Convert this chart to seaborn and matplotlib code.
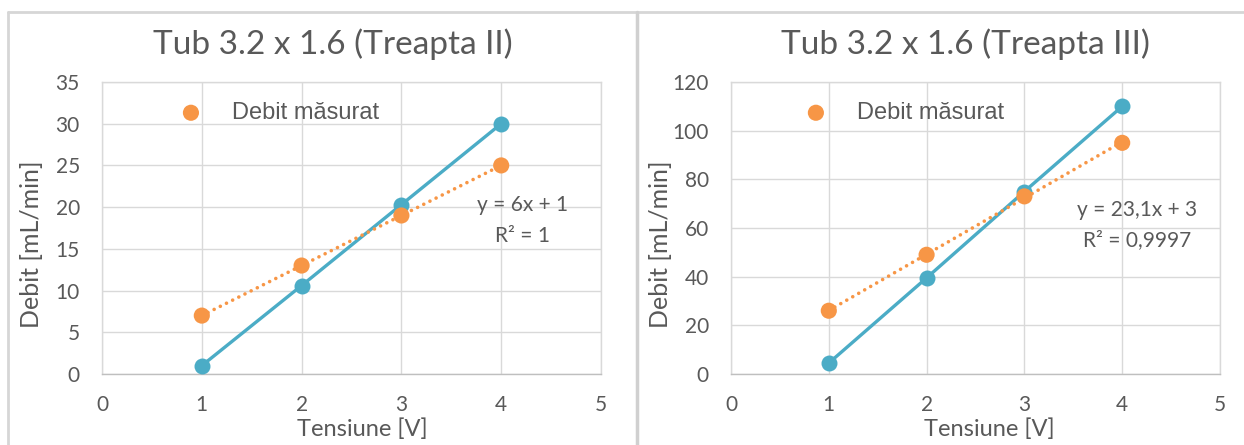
import numpy as np
import pandas as pd
import seaborn as sns
import matplotlib.pyplot as plt
from matplotlib.lines import Line2D

sns.set_theme(style="whitegrid")
plt.rcParams['font.family'] = ['Lato', 'DejaVu Sans']

# data
tensiune = [1, 2, 3, 4]
teoretic_II = [1, 10.6, 20.3, 30]
masurat_II = [7, 13, 19, 25]
teoretic_III = [4.5, 39.5, 75, 110]
masurat_III = [26, 49, 73, 95]
titles = ["Tub 3.2 x 1.6 (Treapta II)", "Tub 3.2 x 1.6 (Treapta III)"]
ymax = [35, 120]
ystep = [5, 20]
eq_text = ["y = 6x + 1\nR² = 1", "y = 23,1x + 3\nR² = 0,9997"]
eq_pos = [(4.21, 18.4), (4.15, 61.2)]

BLUE = "#4BACC6"
ORANGE = "#F79646"
GRID = "#D9D9D9"
TXT = "#595959"

W, H = 1244, 445
fig = plt.figure(figsize=(W / 100, H / 100), dpi=100)
fig.patch.set_facecolor("white")

# panel frames (top line, outer left and the shared divider)
frame = dict(transform=fig.transFigure, color="#D6D6D6", lw=2)
fig.add_artist(Line2D([8 / W, 1], [1 - 12 / H] * 2, **frame))
fig.add_artist(Line2D([8 / W] * 2, [0, 1 - 12 / H], **frame))
fig.add_artist(Line2D([637 / W] * 2, [0, 1 - 12 / H], color="#D0D0D0", lw=2.5,
                      transform=fig.transFigure))

# axes boxes in pixels: (left, right)
boxes = [(102, 601), (731, 1220)]
title_x = [0.463, 0.48]
xlab_x = [0.521, 0.528]
ylab_px = [32, 661]
leg_x = [0.112, 0.106]
series = [(teoretic_II, masurat_II), (teoretic_III, masurat_III)]

for i, (teo, mas) in enumerate(series):
    l, r = boxes[i]
    ax = fig.add_axes([l / W, 1 - 374 / H, (r - l) / W, 292 / H])
    df = pd.DataFrame({"x": tensiune, "teo": teo, "mas": mas})

    coef = np.polyfit(df["x"], df["mas"], 1)
    df["fit"] = np.polyval(coef, df["x"])

    sns.lineplot(data=df, x="x", y="teo", ax=ax, color=BLUE, lw=2.4,
                 marker="o", markersize=11.5, markeredgewidth=0, zorder=3)
    sns.lineplot(data=df, x="x", y="fit", ax=ax, color=ORANGE, lw=2.6,
                 linestyle=(0, (0.01, 1.9)), dash_capstyle="round", zorder=4)
    sns.scatterplot(data=df, x="x", y="mas", ax=ax, color=ORANGE, s=135,
                    edgecolor="none", zorder=5, label="Debit măsurat")

    ax.set_xlim(0, 5)
    ax.set_ylim(0, ymax[i])
    ax.set_xticks(range(0, 6))
    ax.set_yticks(range(0, ymax[i] + 1, ystep[i]))
    ax.grid(True, color=GRID, lw=1)
    for s in ax.spines.values():
        s.set_visible(True)
        s.set_color(GRID)
        s.set_linewidth(1)
    ax.spines["bottom"].set_color("#BFBFBF")
    ax.tick_params(colors=TXT, labelsize=15, length=0)
    ax.tick_params(axis="x", pad=15)
    ax.tick_params(axis="y", pad=16)

    ax.set_xlabel("Tensiune [V]", fontsize=17, color=TXT)
    ax.xaxis.set_label_coords(xlab_x[i], -0.19)
    ax.xaxis.label.set_va("center")
    ax.set_ylabel("Debit [mL/min]", fontsize=18, color=TXT)
    ax.yaxis.set_label_coords((ylab_px[i] - l) / (r - l), 0.445)
    ax.yaxis.label.set_va("center")
    ax.set_title(titles[i], fontsize=24, color=TXT, x=title_x[i], pad=20)

    leg = ax.legend(loc="center left", bbox_to_anchor=(leg_x[i], 0.894), frameon=False,
                    handletextpad=0.75, borderaxespad=0,
                    prop={"family": "Liberation Sans", "size": 17})
    for t in leg.get_texts():
        t.set_color(TXT)

    ax.text(eq_pos[i][0], eq_pos[i][1], eq_text[i], ha="center", va="center",
            fontsize=15, color=TXT, linespacing=1.65)

fig.savefig("out.png", dpi=100, facecolor="white")
